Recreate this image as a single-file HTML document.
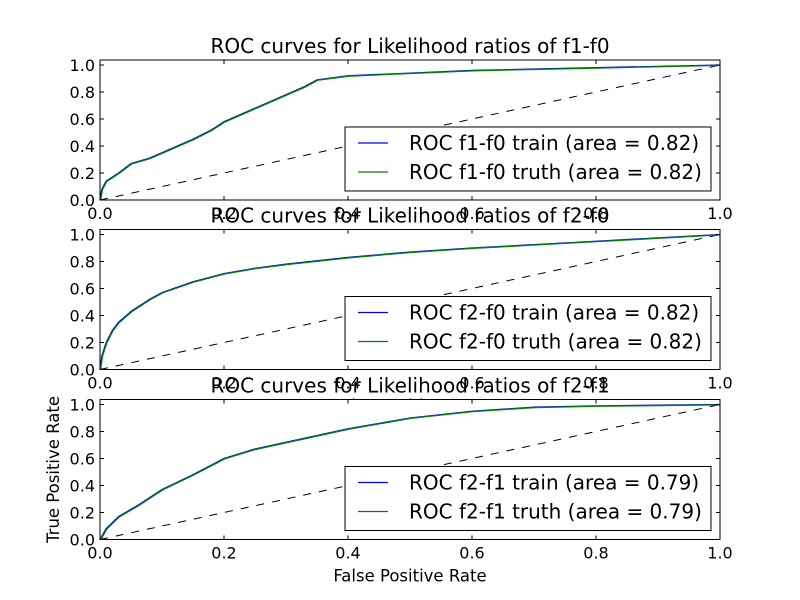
<!DOCTYPE html>
<html><head><meta charset="utf-8"><style>
body{margin:0;background:#fff}
svg{display:block;font-family:"DejaVu Sans","Liberation Sans",sans-serif}
</style></head><body>
<svg id="chart" width="800" height="600" viewBox="0 0 800 600">
<rect x="0" y="0" width="800" height="600" fill="#fff"/>
</svg>
<script>
const xTicks = [0, 0.2, 0.4, 0.6, 0.8, 1.0];
const xTickLabels = ["0.0","0.2","0.4","0.6","0.8","1.0"];
const yTicks = [0, 0.2, 0.4, 0.6, 0.8, 1.0];
const yTickLabels = ["0.0","0.2","0.4","0.6","0.8","1.0"];
const titles = ["ROC curves for Likelihood ratios of f1-f0","ROC curves for Likelihood ratios of f2-f0","ROC curves for Likelihood ratios of f2-f1"];
const legendTrain = ["ROC f1-f0 train (area = 0.82)","ROC f2-f0 train (area = 0.82)","ROC f2-f1 train (area = 0.79)"];
const legendTruth = ["ROC f1-f0 truth (area = 0.82)","ROC f2-f0 truth (area = 0.82)","ROC f2-f1 truth (area = 0.79)"];
const fprA = [0,0.003,0.01,0.03,0.05,0.08,0.1,0.13,0.15,0.18,0.2,0.25,0.3,0.33,0.35,0.4,0.5,0.6,0.7,0.8,0.9,1.0];
const tprA = [0,0.08,0.14,0.2,0.27,0.31,0.35,0.41,0.45,0.52,0.58,0.68,0.78,0.84,0.89,0.92,0.94,0.96,0.97,0.98,0.99,1.0];
const fprB = [0,0.003,0.01,0.02,0.03,0.05,0.08,0.1,0.15,0.2,0.25,0.3,0.4,0.5,0.6,0.7,0.8,0.9,1.0];
const tprB = [0,0.1,0.2,0.29,0.35,0.43,0.52,0.57,0.65,0.71,0.75,0.78,0.83,0.87,0.9,0.925,0.95,0.975,1.0];
const fprC = [0,0.005,0.01,0.03,0.06,0.08,0.1,0.15,0.2,0.25,0.3,0.4,0.5,0.6,0.7,0.8,0.9,1.0];
const tprC = [0,0.04,0.08,0.17,0.25,0.31,0.37,0.48,0.6,0.67,0.72,0.82,0.9,0.95,0.98,0.99,0.995,1.0];
const trainX=[fprA,fprB,fprC], trainY=[tprA,tprB,tprC];

const NS="http://www.w3.org/2000/svg";
const svg=document.getElementById('chart');
function mk(tag,attrs,parent){const e=document.createElementNS(NS,tag);for(const k in attrs)e.setAttribute(k,attrs[k]);(parent||svg).appendChild(e);return e;}
const L=100,R=720,H=140,YMAX=1.037;
const tops=[60,229.5,399.5];
tops.forEach((top,i)=>{
  const bot=top+H;
  const sx=v=>L+v*(R-L), sy=v=>bot-v/YMAX*H;
  const g=mk('g',{});
  
  
  mk('rect',{x:L,y:top,width:R-L,height:H,fill:'#fff'},g);
  const d=mk('line',{x1:sx(0),y1:sy(0),x2:sx(1),y2:sy(1),stroke:'#000','stroke-dasharray':'8,8','stroke-width':1},g);
  
  
  const pts=trainX[i].map((x,j)=>sx(x)+','+sy(trainY[i][j])).join(' ');
  const p1=mk('polyline',{points:pts,fill:'none',stroke:'#0000ff','stroke-width':1.3},g);
  
  
  const p2=mk('polyline',{points:pts,fill:'none',stroke:'#008000','stroke-width':1.3,transform:'translate(0.6,0.4)'},g);
  
  
  xTicks.forEach((t,j)=>{
    mk('line',{x1:sx(t),y1:bot,x2:sx(t),y2:bot-4,stroke:'#000'},g);
    mk('line',{x1:sx(t),y1:top,x2:sx(t),y2:top+4,stroke:'#000'},g);
    const tx=mk('text',{x:sx(t),y:bot+19,'text-anchor':'middle','font-size':16},g);
    tx.textContent=xTickLabels[j];
    
    
  });
  yTicks.forEach((t,j)=>{
    mk('line',{x1:L,y1:sy(t),x2:L+4,y2:sy(t),stroke:'#000'},g);
    mk('line',{x1:R,y1:sy(t),x2:R-4,y2:sy(t),stroke:'#000'},g);
    const ty=mk('text',{x:L-5,y:sy(t)+6,'text-anchor':'end','font-size':16},g);
    ty.textContent=yTickLabels[j];
    
    
  });
  const fr=mk('rect',{x:L,y:top,width:R-L,height:H,fill:'none',stroke:'#000','stroke-width':1},g);
  
  
  const xl=mk('text',{x:410,y:bot+42,'text-anchor':'middle','font-size':16.5},g);
  xl.textContent='False Positive Rate';
  
  
  if(i===2){
    const yl=mk('text',{x:0,y:0,'text-anchor':'middle','font-size':16.5,transform:`translate(59,${top+H/2}) rotate(-90)`},g);
    yl.textContent='True Positive Rate';
    
    
  }
  const ti=mk('text',{x:410,y:top-7,'text-anchor':'middle','font-size':20},g);
  ti.textContent=titles[i];
  
  
  const lg=mk('g',{},g);
  
  
  const ly=top+67;
  mk('rect',{x:345,y:ly,width:366,height:64,fill:'#fff',stroke:'#000','stroke-width':1},lg);
  mk('line',{x1:358,y1:ly+16,x2:388,y2:ly+16,stroke:'#0000ff','stroke-width':1.3},lg);
  mk('line',{x1:358,y1:ly+45,x2:388,y2:ly+45,stroke:'#008000','stroke-width':1.3},lg);
  const t1=mk('text',{x:409,y:ly+23,'font-size':20},lg);
  t1.textContent=legendTrain[i];
  
  
  const t2=mk('text',{x:409,y:ly+52,'font-size':20},lg);
  t2.textContent=legendTruth[i];
  
  
});
</script>
</body></html>
